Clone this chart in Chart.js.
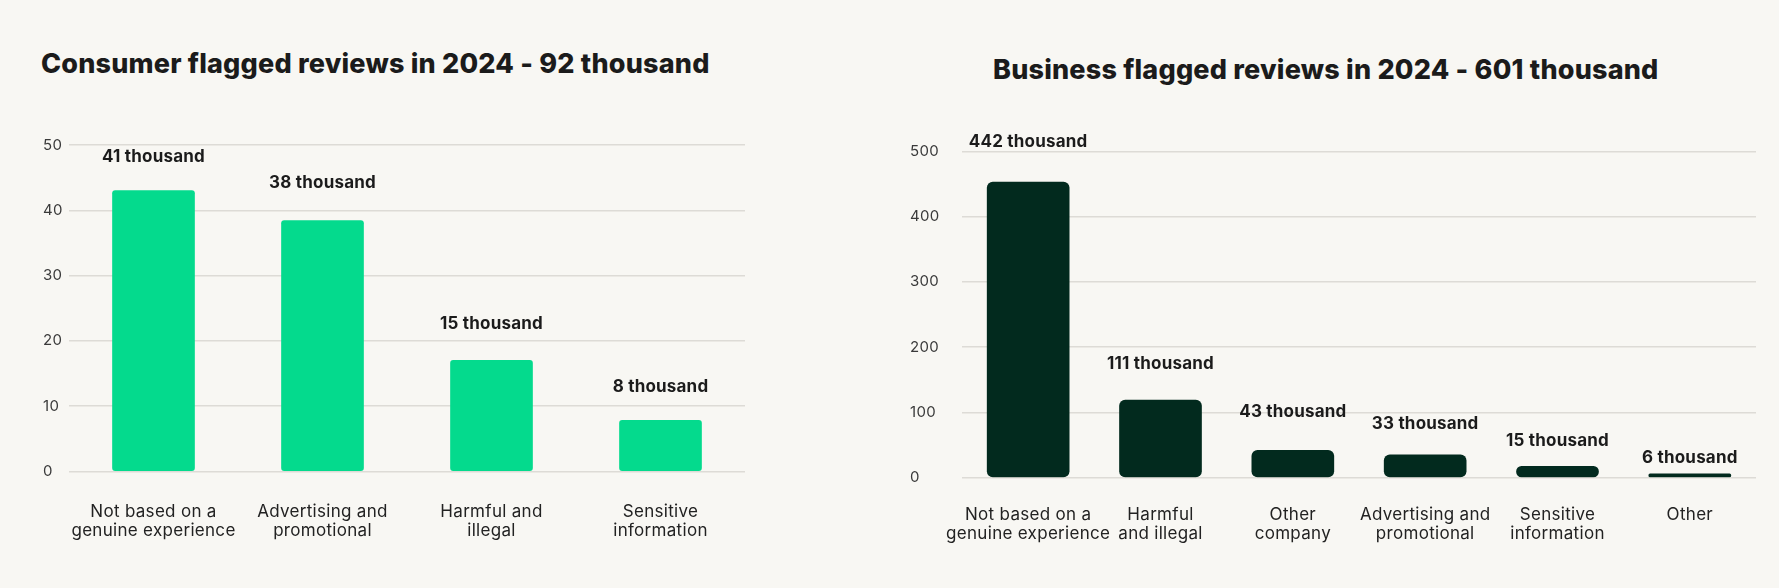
<!DOCTYPE html>
<html><head><meta charset="utf-8">
<script src="https://cdn.jsdelivr.net/npm/chart.js@4.4.1/dist/chart.umd.min.js"></script>
<style>
html,body{margin:0;padding:0;background:#f8f7f3;width:1779px;height:588px;overflow:hidden;}
.title{position:absolute;font-family:Inter,sans-serif;font-weight:800;font-size:27px;line-height:27px;color:#1b1b1b;letter-spacing:0.2px;white-space:nowrap;}
#t1{left:41px;top:50px;}
#t2{left:993px;top:56px;}
canvas{position:absolute;top:0;}
#c1{left:0;}
#c2{left:890px;}
</style></head><body>
<div class="title" id="t1"></div>
<div class="title" id="t2"></div>
<canvas id="c1" width="890" height="588"></canvas>
<canvas id="c2" width="889" height="588"></canvas>
<script>
// ---- data ----
const consumerTitle = "Consumer flagged reviews in 2024 - 92 thousand";
const businessTitle = "Business flagged reviews in 2024 - 601 thousand";

const consumerCategories = [["Not based on a","genuine experience"],["Advertising and","promotional"],["Harmful and","illegal"],["Sensitive","information"]];
const consumerValues = [43, 38.4, 17, 7.8];
const consumerValueLabels = ["41 thousand","38 thousand","15 thousand","8 thousand"];
const consumerTicks = [0, 10, 20, 30, 40, 50];

const businessCategories = [["Not based on a","genuine experience"],["Harmful","and illegal"],["Other","company"],["Advertising and","promotional"],["Sensitive","information"],["Other"]];
const businessValues = [453, 119, 42, 35, 17.5, 6];
const businessValueLabels = ["442 thousand","111 thousand","43 thousand","33 thousand","15 thousand","6 thousand"];
const businessTicks = [0, 100, 200, 300, 400, 500];

document.getElementById('t1').textContent = consumerTitle;
document.getElementById('t2').textContent = businessTitle;

const valueLabels = {
  id: 'valueLabels',
  afterDatasetsDraw(chart, args, opts) {
    const ctx = chart.ctx;
    const meta = chart.getDatasetMeta(0);
    ctx.save();
    ctx.font = opts.font;
    ctx.fillStyle = opts.color;
    ctx.textAlign = 'center';
    ctx.textBaseline = 'middle';
    if ('letterSpacing' in ctx) ctx.letterSpacing = opts.letterSpacing;
    meta.data.forEach((bar, i) => {
      ctx.fillText(opts.labels[i], bar.x, bar.y - opts.lift[i]);
    });
    ctx.restore();
  }
};

// letter spacing for axis tick text
const spacing = {
  id: 'spacing',
  beforeDraw(chart) { if ('letterSpacing' in chart.ctx) chart.ctx.letterSpacing = '0.3px'; },
  afterDraw(chart) { if ('letterSpacing' in chart.ctx) chart.ctx.letterSpacing = '0px'; }
};

function makeChart(id, cats, vals, labels, ticks, color, radius, lift, pad, yWidth, xHeight, xPad) {
  return new Chart(document.getElementById(id), {
    type: 'bar',
    data: { labels: cats, datasets: [{ data: vals, backgroundColor: color, borderRadius: radius, borderSkipped: false, barThickness: 82 }] },
    options: {
      responsive: false, animation: false, devicePixelRatio: 1,
      layout: { padding: pad },
      plugins: {
        legend: { display: false }, tooltip: { enabled: false },
        valueLabels: { labels: labels, lift: lift, font: '700 17px Inter', color: '#1b1b1b', letterSpacing: '0.2px' }
      },
      scales: {
        x: {
          grid: { display: false }, border: { display: false },
          ticks: { color: '#222', padding: xPad, maxRotation: 0, autoSkip: false, font: { family: 'Inter', size: 17, weight: '400', lineHeight: 1.1 } },
          afterFit: s => { s.height = xHeight; }
        },
        y: {
          min: ticks[0], max: ticks[ticks.length - 1],
          afterBuildTicks: s => { s.ticks = ticks.map(v => ({ value: v })); },
          grid: { color: '#dddbd6', lineWidth: 1.5, drawTicks: false }, border: { display: false },
          ticks: { color: '#3a3a3a', crossAlign: 'far', padding: 6, font: { family: 'Inter', size: 15, weight: '400' } },
          afterFit: s => { s.width = yWidth; }
        }
      }
    },
    plugins: [spacing, valueLabels]
  });
}

makeChart('c1', consumerCategories, consumerValues, consumerValueLabels, consumerTicks, '#04da8d', 3,
  [34, 38, 36, 34], { left: 43, right: 145, top: 145, bottom: 0 }, 26, 116.7, 23.5);
makeChart('c2', businessCategories, businessValues, businessValueLabels, businessTicks, '#022a1e', 6,
  [40, 36, 38, 31, 25, 16], { left: 20, right: 23, top: 151.3, bottom: 0 }, 52, 110.3, 20.3);
</script>
</body></html>
